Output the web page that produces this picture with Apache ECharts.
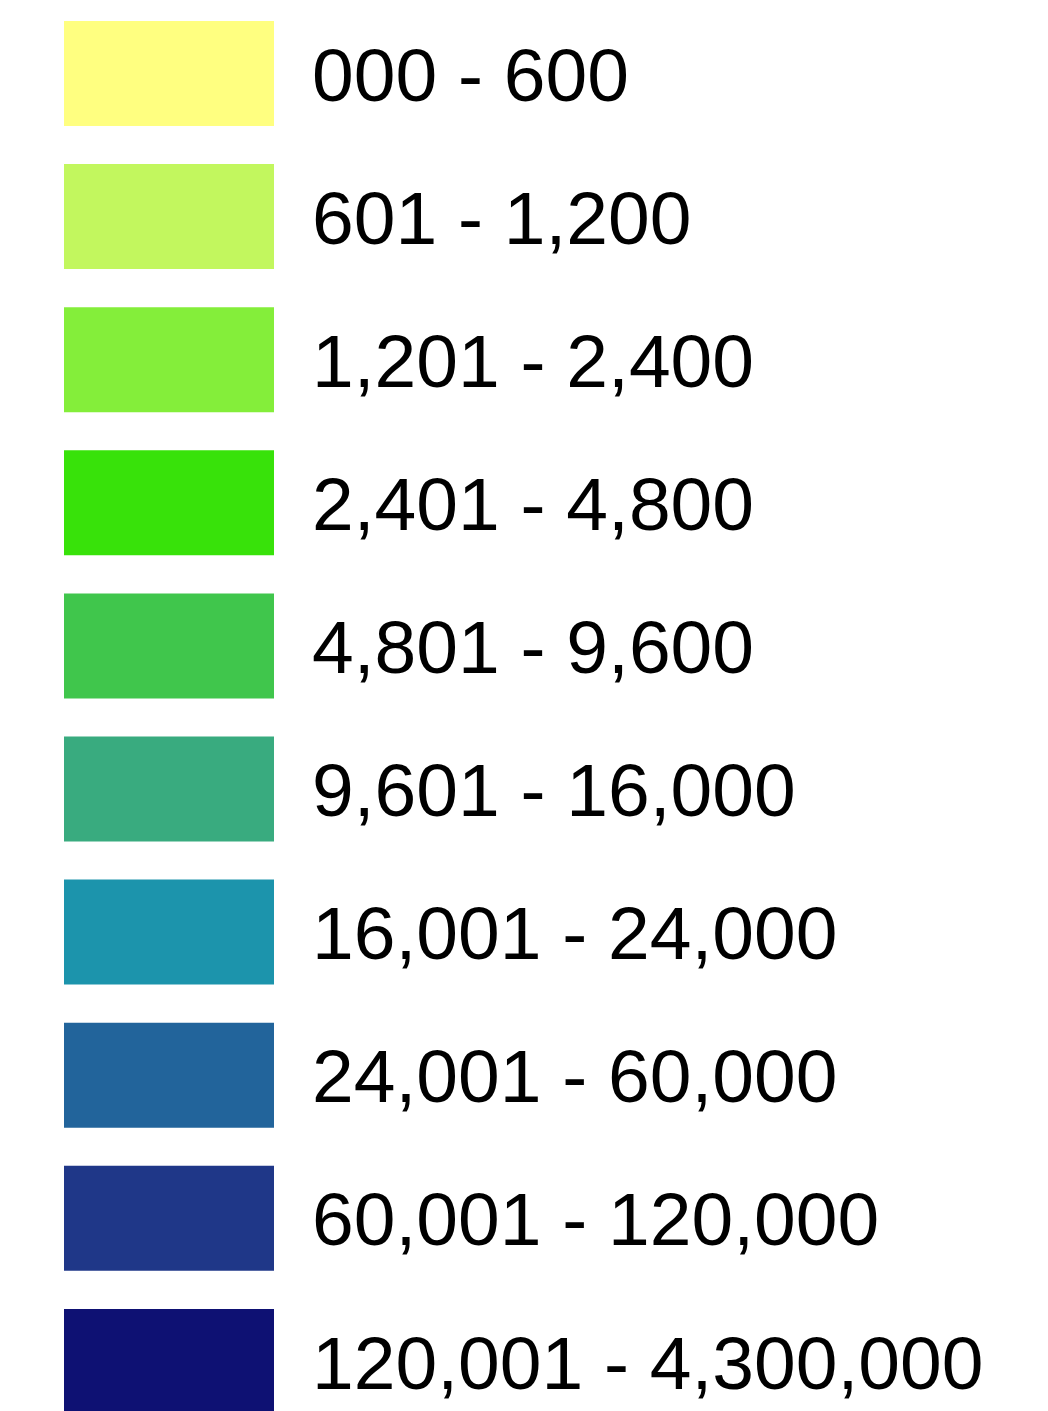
<html>
<head>
<meta http-equiv="Content-Type" content="text/html; charset=utf-8" />
<title>legend</title>
<script src="https://cdn.jsdelivr.net/npm/echarts@6/dist/echarts.min.js"></script>
<style>
  html, body { margin: 0; padding: 0; background: #fff; }
  #main { width: 1048px; height: 1411px; }
</style>
</head>
<body>
<div id="main"></div>
<script>
    // class bounds and labels
    var lowBounds = [0, 601, 1201, 2401, 4801, 9601, 16001, 24001, 60001, 120001];
    var highBounds = [600, 1200, 2400, 4800, 9600, 16000, 24000, 60000, 120000, 4300000];
    var rangeLabels = ['000 - 600', '601 - 1,200', '1,201 - 2,400', '2,401 - 4,800', '4,801 - 9,600',
        '9,601 - 16,000', '16,001 - 24,000', '24,001 - 60,000', '60,001 - 120,000', '120,001 - 4,300,000'];
    var classColors = ['#ffff80', '#c2f75e', '#84ee3a', '#38e20a', '#40c64c',
        '#39ab7f', '#1c94ac', '#22649b', '#1f3788', '#0e1173'];

    var pieces = [];
    for (var i = 0; i < lowBounds.length; i++) {
        pieces.push({
            min: lowBounds[i],
            max: highBounds[i],
            label: '{v|' + rangeLabels[i] + '}',
            color: classColors[i]
        });
    }

    var myChart = echarts.init(document.getElementById('main'));
    var option = {
        backgroundColor: '#fff',
        animation: false,
        visualMap: {
            type: 'piecewise',
            orient: 'vertical',
            inverse: true, // low class on top
            left: 64,
            top: 21,
            padding: 0,
            itemWidth: 210,
            itemHeight: 105,
            itemGap: 38.1,
            itemSymbol: 'rect',
            textGap: 38,
            hoverLink: false,
            pieces: pieces,
            textStyle: {
                fontFamily: 'Liberation Sans',
                fontSize: 75,
                color: '#000',
                rich: {
                    // push digits down a bit
                    v: { fontFamily: 'Liberation Sans', fontSize: 75, color: '#000', padding: [13, 0, 0, 0] }
                }
            }
        },
        series: []
    };
    myChart.setOption(option);
</script>
</body>
</html>
